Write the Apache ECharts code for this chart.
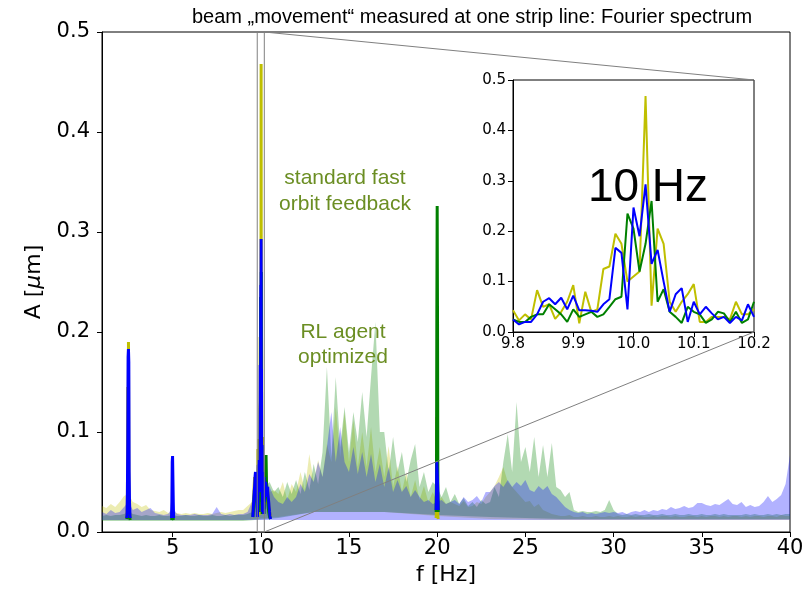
<!DOCTYPE html>
<html><head><meta charset="utf-8">
<script src="https://cdn.jsdelivr.net/npm/echarts@6/dist/echarts.min.js"></script>
<style>html,body{margin:0;padding:0;background:#fff}#c{width:807px;height:594px}</style>
</head><body><div id="c"></div><script>
// ---------- DATA ----------
const titleText = 'beam \u201Emovement\u201C measured at one strip line: Fourier spectrum';
const mainXTicks = [5, 10, 15, 20, 25, 30, 35, 40];

// translucent spectra: upper envelope on a 0.25 Hz grid
const bandFreq = [
1,1.25,1.5,1.75, 2,2.25,2.5,2.75, 3,3.25,3.5,3.75, 4,4.25,4.5,4.75, 5,5.25,5.5,5.75,
6,6.25,6.5,6.75, 7,7.25,7.5,7.75, 8,8.25,8.5,8.75, 9,9.25,9.5,9.75, 10,10.25,10.5,10.75,
11,11.25,11.5,11.75, 12,12.25,12.5,12.75, 13,13.25,13.5,13.75, 14,14.25,14.5,14.75, 15,15.25,15.5,15.75,
16,16.25,16.5,16.75, 17,17.25,17.5,17.75, 18,18.25,18.5,18.75, 19,19.25,19.5,19.75, 20,20.25,20.5,20.75,
21,21.25,21.5,21.75, 22,22.25,22.5,22.75, 23,23.25,23.5,23.75, 24,24.25,24.5,24.75, 25,25.25,25.5,25.75,
26,26.25,26.5,26.75, 27,27.25,27.5,27.75, 28,28.25,28.5,28.75, 29,29.25,29.5,29.75, 30,30.25,30.5,30.75,
31,31.25,31.5,31.75, 32,32.25,32.5,32.75, 33,33.25,33.5,33.75, 34,34.25,34.5,34.75, 35,35.25,35.5,35.75,
36,36.25,36.5,36.75, 37,37.25,37.5,37.75, 38,38.25,38.5,38.75, 39,39.25,39.5,39.75, 40];

const yellowHi = [
0.026,0.024,0.028,0.025, 0.030,0.036,0.038,0.030, 0.028,0.025,0.027,0.022, 0.021,0.020,0.022,0.019, 0.020,0.019,0.018,0.019,
0.018,0.019,0.018,0.018, 0.019,0.018,0.019,0.020, 0.019,0.020,0.021,0.022, 0.022,0.026,0.030,0.040, 0.050,0.045,0.040,0.042,
0.038,0.050,0.032,0.048, 0.040,0.060,0.042,0.078, 0.050,0.072,0.055,0.088, 0.070,0.125,0.075,0.120, 0.070,0.112,0.065,0.100,
0.065,0.105,0.060,0.085, 0.055,0.086,0.045,0.066, 0.040,0.060,0.035,0.052, 0.032,0.046,0.030,0.040, 0.030,0.035,0.028,0.030,
0.028,0.026,0.031,0.025, 0.026,0.030,0.028,0.035, 0.040,0.046,0.055,0.065, 0.050,0.045,0.040,0.035, 0.030,0.031,0.025,0.028,
0.022,0.020,0.018,0.017, 0.016,0.016,0.017,0.015, 0.015,0.016,0.015,0.015, 0.016,0.015,0.015,0.016, 0.015,0.016,0.015,0.015,
0.016,0.015,0.016,0.015, 0.015,0.016,0.015,0.016, 0.016,0.015,0.016,0.015, 0.015,0.016,0.016,0.015, 0.016,0.015,0.016,0.016,
0.015,0.016,0.015,0.016, 0.016,0.015,0.016,0.015, 0.016,0.016,0.015,0.016, 0.016,0.015,0.017,0.016, 0.016];

const greenHi = [
0.016,0.017,0.016,0.017, 0.017,0.018,0.020,0.018, 0.017,0.016,0.017,0.016, 0.016,0.017,0.016,0.016, 0.017,0.016,0.016,0.017,
0.016,0.016,0.017,0.016, 0.016,0.017,0.016,0.016, 0.017,0.016,0.017,0.017, 0.017,0.018,0.020,0.030, 0.040,0.045,0.050,0.040,
0.045,0.035,0.050,0.038, 0.052,0.038,0.060,0.042, 0.068,0.048,0.080,0.165, 0.075,0.155,0.085,0.125, 0.080,0.120,0.090,0.140,
0.095,0.155,0.210,0.100, 0.100,0.060,0.095,0.060, 0.080,0.050,0.072,0.088, 0.045,0.060,0.040,0.050, 0.045,0.035,0.045,0.030,
0.038,0.028,0.034,0.026, 0.030,0.025,0.032,0.028, 0.030,0.045,0.035,0.070, 0.098,0.060,0.130,0.070, 0.085,0.060,0.095,0.055,
0.087,0.055,0.089,0.045, 0.042,0.035,0.040,0.022, 0.020,0.021,0.020,0.020, 0.021,0.020,0.022,0.032, 0.022,0.018,0.017,0.018,
0.017,0.018,0.017,0.017, 0.018,0.017,0.017,0.018, 0.017,0.017,0.018,0.017, 0.017,0.018,0.017,0.017, 0.018,0.017,0.017,0.018,
0.017,0.018,0.017,0.017, 0.017,0.017,0.018,0.017, 0.018,0.017,0.017,0.018, 0.017,0.018,0.017,0.018, 0.018];

const blueHi = [
0.020,0.018,0.022,0.019, 0.020,0.025,0.030,0.022, 0.024,0.020,0.022,0.024, 0.019,0.018,0.017,0.018, 0.025,0.018,0.017,0.017,
0.017,0.018,0.017,0.017, 0.017,0.018,0.025,0.018, 0.017,0.018,0.017,0.018, 0.018,0.020,0.030,0.050, 0.060,0.050,0.045,0.035,
0.030,0.028,0.035,0.030, 0.035,0.048,0.040,0.058, 0.050,0.070,0.055,0.085, 0.120,0.070,0.105,0.070, 0.060,0.085,0.058,0.080,
0.055,0.078,0.050,0.068, 0.045,0.065,0.040,0.052, 0.040,0.046,0.035,0.042, 0.035,0.030,0.032,0.028, 0.030,0.032,0.028,0.030,
0.032,0.028,0.035,0.030, 0.032,0.036,0.030,0.040, 0.040,0.046,0.050,0.045, 0.052,0.045,0.050,0.046, 0.052,0.042,0.040,0.046,
0.042,0.046,0.038,0.035, 0.030,0.025,0.022,0.020, 0.019,0.020,0.018,0.019, 0.018,0.019,0.020,0.019, 0.020,0.019,0.020,0.018,
0.020,0.021,0.020,0.022, 0.020,0.022,0.021,0.023, 0.022,0.025,0.023,0.024, 0.026,0.024,0.025,0.029, 0.029,0.027,0.026,0.028,
0.027,0.030,0.033,0.028, 0.027,0.030,0.025,0.027, 0.025,0.026,0.030,0.036, 0.030,0.033,0.037,0.048, 0.077];

// lower envelope of the translucent spectra
const yellowLoF = [1, 9, 11, 13, 17, 20, 23, 27, 40];
const yellowLoV = [0.012, 0.012, 0.015, 0.020, 0.020, 0.016, 0.013, 0.012, 0.012];
const greenLoF  = [1, 9, 11, 13, 17, 20, 23, 27, 40];
const greenLoV  = [0.011, 0.011, 0.014, 0.020, 0.020, 0.017, 0.015, 0.013, 0.013];
const blueLoF   = [1, 40];
const blueLoV   = [0.012, 0.012];

// opaque peaks
const p25F = [2.40, 2.42, 2.44, 2.46, 2.48, 2.50, 2.52, 2.54, 2.56, 2.58, 2.60];
const p25Y = [0.015, 0.020, 0.030, 0.145, 0.050, 0.190, 0.060, 0.030, 0.020, 0.018, 0.015];
const p25G = [0.013, 0.014, 0.016, 0.020, 0.025, 0.030, 0.022, 0.018, 0.015, 0.013, 0.012];
const p25B = [0.014, 0.020, 0.040, 0.090, 0.175, 0.183, 0.170, 0.060, 0.030, 0.020, 0.014];

const p5F = [4.94, 4.96, 4.98, 5.00, 5.02, 5.04, 5.06];
const p5Y = [0.014, 0.016, 0.020, 0.022, 0.018, 0.015, 0.014];
const p5G = [0.012, 0.014, 0.016, 0.018, 0.016, 0.013, 0.012];
const p5B = [0.014, 0.030, 0.070, 0.076, 0.074, 0.030, 0.014];

const p20F = [19.94, 19.96, 19.98, 20.00, 20.02, 20.04, 20.06];
const p20Y = [0.014, 0.020, 0.115, 0.030, 0.020, 0.015, 0.013];
const p20G = [0.020, 0.050, 0.215, 0.326, 0.210, 0.040, 0.020];
const p20B = [0.022, 0.040, 0.070, 0.072, 0.070, 0.040, 0.022];

const tenLeftF  = [9.55, 9.575, 9.60, 9.625, 9.65, 9.675, 9.70, 9.725, 9.75, 9.775];
const tenLeftY  = [0.020, 0.030, 0.035, 0.045, 0.055, 0.040, 0.045, 0.050, 0.060, 0.045];
const tenLeftG  = [0.015, 0.020, 0.025, 0.035, 0.040, 0.030, 0.050, 0.040, 0.030, 0.035];
const tenLeftB  = [0.015, 0.025, 0.030, 0.040, 0.045, 0.055, 0.060, 0.050, 0.050, 0.045];
const tenRightF = [10.225, 10.25, 10.275, 10.30, 10.325, 10.35, 10.375, 10.40, 10.425, 10.45, 10.475, 10.50, 10.525, 10.55];
const tenRightY = [0.035, 0.040, 0.030, 0.035, 0.028, 0.030, 0.038, 0.042, 0.030, 0.030, 0.025, 0.020, 0.018, 0.015];
const tenRightG = [0.040, 0.050, 0.060, 0.077, 0.050, 0.040, 0.035, 0.030, 0.025, 0.020, 0.018, 0.015, 0.014, 0.013];
const tenRightB = [0.040, 0.045, 0.050, 0.050, 0.042, 0.035, 0.045, 0.040, 0.035, 0.030, 0.025, 0.020, 0.016, 0.013];

// inset: 9.8 .. 10.2 Hz
const insetF = [9.80,9.81,9.82,9.83,9.84,9.85,9.86,9.87,9.88,9.89,9.90,9.91,9.92,9.93,9.94,9.95,9.96,9.97,9.98,9.99,
10.00,10.01,10.02,10.03,10.04,10.05,10.06,10.07,10.08,10.09,10.10,10.11,10.12,10.13,10.14,10.15,10.16,10.17,10.18,10.19,10.20];
const insetY = [0.043,0.023,0.035,0.025,0.083,0.050,0.055,0.026,0.040,0.060,0.093,0.017,0.080,0.040,0.045,0.125,0.130,0.195,0.175,0.100,
0.110,0.120,0.468,0.052,0.205,0.175,0.060,0.040,0.060,0.075,0.095,0.020,0.020,0.030,0.030,0.030,0.025,0.060,0.035,0.035,0.045];
const insetG = [0.025,0.020,0.020,0.030,0.035,0.035,0.055,0.045,0.035,0.020,0.045,0.030,0.035,0.040,0.030,0.035,0.050,0.065,0.070,0.235,
0.205,0.120,0.175,0.260,0.060,0.085,0.040,0.030,0.018,0.050,0.040,0.035,0.018,0.025,0.040,0.037,0.020,0.040,0.018,0.025,0.060];
const insetB = [0.025,0.015,0.020,0.020,0.035,0.060,0.067,0.055,0.068,0.045,0.072,0.043,0.043,0.042,0.040,0.055,0.065,0.167,0.157,0.045,
0.247,0.190,0.293,0.135,0.163,0.100,0.040,0.075,0.087,0.020,0.060,0.035,0.050,0.037,0.025,0.030,0.018,0.030,0.023,0.055,0.030];

// ---------- CHART ----------
const YEL = '#bfbf00', GRN = '#008000', BLU = '#0000ff';
const chart = echarts.init(document.getElementById('c'), null, {renderer: 'canvas'});

function band(fArr, hi, loF, loV, fill, z) {
  return {
    type: 'custom', coordinateSystem: 'cartesian2d', xAxisIndex: 0, yAxisIndex: 0,
    data: fArr.map((f, i) => [f, hi[i]]), silent: true, animation: false, z: z,
    renderItem: function (params, api) {
      if (params.dataIndex !== 0) return null;
      const pts = [];
      for (let i = 0; i < fArr.length; i++) pts.push(api.coord([fArr[i], hi[i]]));
      for (let i = loF.length - 1; i >= 0; i--) pts.push(api.coord([loF[i], loV[i]]));
      return {type: 'polygon', shape: {points: pts}, style: {fill: fill}};
    }
  };
}
function line(fs, vs, color, ax, z, w) {
  return {
    type: 'line', xAxisIndex: ax, yAxisIndex: ax, data: fs.map((f, i) => [f, vs[i]]),
    symbol: 'none', showSymbol: false, lineStyle: {color: color, width: w}, itemStyle: {color: color},
    z: z, animation: false, silent: true, clip: true
  };
}
const tenF = tenLeftF.concat(insetF, tenRightF);
const tenY = tenLeftY.concat(insetY, tenRightY);
const tenG = tenLeftG.concat(insetG, tenRightG);
const tenB = tenLeftB.concat(insetB, tenRightB);

const tickFont = 'DejaVu Sans';
const series = [
  band(bandFreq, yellowHi, yellowLoF, yellowLoV, 'rgba(191,191,0,0.3)', 2),
  band(bandFreq, greenHi, greenLoF, greenLoV, 'rgba(0,128,0,0.3)', 2),
  band(bandFreq, blueHi, blueLoF, blueLoV, 'rgba(0,0,255,0.3)', 2),
];
[[p25F, p25Y, p25G, p25B], [p5F, p5Y, p5G, p5B], [tenF, tenY, tenG, tenB], [p20F, p20Y, p20G, p20B]].forEach(s => {
  series.push(line(s[0], s[1], YEL, 0, 3, 3));
  series.push(line(s[0], s[2], GRN, 0, 3, 3));
  series.push(line(s[0], s[3], BLU, 0, 3, 3));
});
series.push(line(insetF, insetY, YEL, 1, 5, 2));
series.push(line(insetF, insetG, GRN, 1, 5, 2));
series.push(line(insetF, insetB, BLU, 1, 5, 2));

const axisCommon = {
  axisLine: {show: true, onZero: false, lineStyle: {color: '#000', width: 1}},
  axisTick: {show: true, inside: false, length: 5, lineStyle: {color: '#000', width: 1}},
  splitLine: {show: false}
};

chart.setOption({
  animation: false,
  backgroundColor: '#fff',
  grid: [
    {left: 102, top: 32, width: 688, height: 500, show: true, borderColor: '#000', borderWidth: 1,
      backgroundColor: 'transparent', outerBoundsMode: 'none', containLabel: false},
    {left: 513, top: 80, width: 241, height: 252, show: true, borderColor: '#000', borderWidth: 1,
      backgroundColor: '#fff', z: 4, outerBoundsMode: 'none', containLabel: false}
  ],
  xAxis: [
    Object.assign({}, axisCommon, {
      type: 'value', gridIndex: 0, min: 1, max: 40,
      axisTick: Object.assign({}, axisCommon.axisTick, {customValues: mainXTicks}),
      axisLabel: {customValues: mainXTicks, color: '#000', fontSize: 21, fontFamily: tickFont, margin: 6},
      name: 'f [Hz]', nameLocation: 'middle', nameGap: 32,
      nameTextStyle: {color: '#000', fontSize: 22, fontFamily: tickFont}
    }),
    Object.assign({}, axisCommon, {
      type: 'value', gridIndex: 1, min: 9.8, max: 10.2, interval: 0.1, z: 5,
      axisLabel: {color: '#000', fontSize: 15, fontFamily: tickFont, margin: 5, formatter: v => v.toFixed(1)}
    })
  ],
  yAxis: [
    Object.assign({}, axisCommon, {
      type: 'value', gridIndex: 0, min: 0, max: 0.5, interval: 0.1,
      axisLabel: {color: '#000', fontSize: 21, fontFamily: tickFont, margin: 12, formatter: v => v.toFixed(1)},
      name: 'A [{i|\u03BC}m]', nameLocation: 'middle', nameGap: 54, nameRotate: 90,
      nameTextStyle: {color: '#000', fontSize: 22, fontFamily: tickFont,
        rich: {i: {fontStyle: 'italic', fontSize: 22, fontFamily: tickFont, color: '#000'}}}
    }),
    Object.assign({}, axisCommon, {
      type: 'value', gridIndex: 1, min: 0, max: 0.5, interval: 0.1, z: 5,
      axisLabel: {color: '#000', fontSize: 15, fontFamily: tickFont, margin: 7, formatter: v => v.toFixed(1)}
    })
  ],
  series: series
});

// zoom indicator + connectors, positioned through the axes
const zx0 = insetF[0], zx1 = insetF[insetF.length - 1], zyMax = 0.5;
const pm = (x, y) => chart.convertToPixel({gridIndex: 0}, [x, y]);
const pi = (x, y) => chart.convertToPixel({gridIndex: 1}, [x, y]);
const a0 = pm(zx0, 0), a1 = pm(zx1, zyMax), b0 = pm(zx1, 0);
const c1 = pi(zx1, zyMax), c0 = pi(zx1, 0);
const olive = '#6b8e23';
const sans = 'Liberation Sans, Arial, sans-serif';
chart.setOption({
  graphic: [
    {type: 'rect', id: 'zrect', z: 8, silent: true,
      shape: {x: a0[0], y: a1[1], width: a1[0] - a0[0], height: a0[1] - a1[1]},
      style: {fill: 'none', stroke: '#808080', lineWidth: 1}},
    {type: 'line', id: 'con1', z: 8, silent: true, shape: {x1: a1[0], y1: a1[1], x2: c1[0], y2: c1[1]},
      style: {stroke: '#808080', lineWidth: 1}},
    {type: 'line', id: 'con2', z: 8, silent: true, shape: {x1: b0[0], y1: b0[1], x2: c0[0], y2: c0[1]},
      style: {stroke: '#808080', lineWidth: 1}},
    {type: 'text', id: 'title', z: 20, silent: true, x: 472, y: 17,
      style: {text: titleText, fill: '#000', fontSize: 20, fontFamily: sans, align: 'center', verticalAlign: 'middle'}},
    {type: 'text', id: 'ann1', z: 20, silent: true, x: 345, y: 165,
      style: {text: 'standard fast\norbit feedback', fill: olive, fontSize: 21, fontFamily: sans,
        align: 'center', verticalAlign: 'top', lineHeight: 26}},
    {type: 'text', id: 'ann2', z: 20, silent: true, x: 343, y: 320,
      style: {text: 'RL agent\noptimized', fill: olive, fontSize: 21, fontFamily: sans,
        align: 'center', verticalAlign: 'top', lineHeight: 25}},
    {type: 'text', id: 'ten', z: 30, silent: true, x: 648, y: 188,
      style: {text: '10 Hz', fill: '#000', fontSize: 46, fontFamily: sans, align: 'center', verticalAlign: 'middle'}}
  ]
});
</script></body></html>
